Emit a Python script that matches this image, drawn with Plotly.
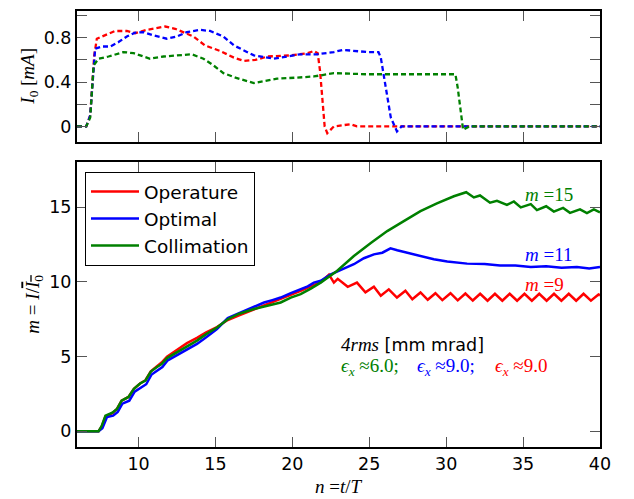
import plotly.graph_objects as go

# ---------------- data ----------------
# top panel: I0 [mA] vs n
top_red_n = [6, 6.6, 6.86, 6.97, 7.03, 7.12, 7.29, 7.94, 8.48, 9.24, 9.78, 10.54, 11.19, 11.73, 12.38, 12.92,
             13.57, 14.32, 15.3, 16.2, 16.86, 17.6, 18.4, 19.9, 21.0, 21.4, 21.65, 21.8, 21.95, 22.1, 22.27,
             22.7, 23.8, 24.2, 40]
top_red_v = [0, 0.0, 0.1, 0.31, 0.49, 0.64, 0.79, 0.83, 0.86, 0.86, 0.84, 0.87, 0.89, 0.9, 0.88, 0.85,
             0.81, 0.73, 0.68, 0.62, 0.59, 0.6, 0.63, 0.64, 0.66, 0.68, 0.66, 0.5, 0.25, 0.0, -0.06,
             0.0, 0.02, 0.0, 0.0]

top_blue_n = [6, 6.6, 6.86, 6.97, 7.05, 7.18, 7.62, 8.16, 8.7, 9.24, 9.78, 10.32, 10.97, 11.84, 12.49, 13.14,
              14.0, 14.65, 15.52, 16.2, 17.5, 18.8, 20.5, 21.6, 22.7, 23.3, 24.85, 25.6, 25.75, 26.0, 26.4,
              26.8, 27.1, 27.5, 40]
top_blue_v = [0, 0, 0.1, 0.3, 0.5, 0.70, 0.72, 0.72, 0.76, 0.81, 0.845, 0.85, 0.82, 0.79, 0.81, 0.85,
              0.87, 0.86, 0.81, 0.73, 0.64, 0.61, 0.65, 0.65, 0.67, 0.69, 0.67, 0.67, 0.62, 0.4, 0.08,
              -0.045, 0.0, 0.0, 0.0]

top_green_n = [6, 6.6, 6.86, 6.97, 7.03, 7.08, 7.4, 8.05, 9.03, 9.68, 10.32, 10.75, 11.62, 12.49, 13.46, 14.22,
               14.87, 15.52, 16.3, 17.5, 18.2, 19.0, 20.3, 21.4, 22.7, 24.85, 27.0, 29.2, 30.6, 30.75, 30.95,
               31.1, 31.5, 40]
top_green_v = [0, 0, 0.08, 0.28, 0.45, 0.55, 0.61, 0.63, 0.67, 0.66, 0.63, 0.61, 0.63, 0.64, 0.65, 0.61,
               0.55, 0.48, 0.44, 0.39, 0.41, 0.43, 0.44, 0.45, 0.48, 0.47, 0.47, 0.47, 0.47, 0.35, 0.1,
               -0.03, 0.0, 0.0]

# bottom panel: m = I / I0 vs n
bot_red_n = [6, 7.4, 7.6, 7.85, 8.3, 8.6, 8.9, 9.35, 9.7, 10.1, 10.45, 10.8, 11.2, 11.5, 11.85, 12.5, 13.15,
             13.8, 14.4, 15.1, 15.8, 16.5, 17.5, 18.4, 19.24, 19.9, 20.54, 21.2, 21.84, 22.38, 22.7, 22.95,
             23.6, 24.2, 24.75, 25.3, 25.75, 26.27, 26.8, 27.35, 27.8, 28.33, 28.8, 29.3, 29.75, 30.28, 30.75,
             31.25, 31.73, 32.21, 32.69, 33.17, 33.65, 34.13, 34.61, 35.09, 35.57, 36.05, 36.53, 37.01, 37.49,
             37.97, 38.45, 38.93, 39.41, 39.9, 40]
bot_red_v = [0, 0, 0.3, 1.0, 1.22, 1.5, 2.05, 2.3, 2.85, 3.2, 3.42, 4.02, 4.35, 4.6, 5.0, 5.45, 5.9,
             6.25, 6.62, 6.98, 7.45, 7.75, 8.15, 8.5, 8.84, 9.1, 9.4, 9.7, 9.98, 10.48, 9.95, 10.2,
             9.67, 9.95, 9.3, 9.67, 9.07, 9.5, 8.95, 9.4, 8.84, 9.29, 8.8, 9.24, 8.78, 9.24, 8.76,
             9.22, 8.75, 9.2, 8.74, 9.2, 8.74, 9.2, 8.74, 9.2, 8.74, 9.2, 8.74, 9.2, 8.74,
             9.2, 8.74, 9.2, 8.74, 9.16, 9.1]

bot_blue_n = [6, 7.4, 7.65, 7.95, 8.35, 8.65, 8.95, 9.4, 9.75, 10.15, 10.5, 10.85, 11.25, 11.55, 11.9, 12.5,
              13.15, 13.8, 14.4, 15.1, 15.8, 16.3, 16.86, 17.5, 18.16, 18.7, 19.24, 19.9, 20.54, 21.0, 21.4,
              21.85, 22.5, 23.35, 24.0, 24.65, 25.3, 25.85, 26.38, 26.82, 27.47, 28.33, 29.2, 30.07, 31.36,
              32.5, 33.5, 34.5, 35.5, 36.5, 37.5, 38.5, 39.3, 40]
bot_blue_v = [0, 0, 0.2, 0.95, 1.05, 1.3, 1.85, 2.05, 2.65, 2.95, 3.15, 3.8, 4.1, 4.3, 4.75, 5.1,
              5.5, 5.85, 6.3, 6.85, 7.58, 7.8, 8.02, 8.3, 8.62, 8.78, 8.95, 9.25, 9.51, 9.7, 9.95,
              10.07, 10.51, 10.91, 11.18, 11.58, 11.84, 11.95, 12.24, 12.11, 11.95, 11.73, 11.51, 11.36, 11.22,
              11.2, 11.1, 11.1, 11.0, 11.05, 10.95, 11.0, 10.9, 11.0]

bot_green_n = [6, 7.4, 7.6, 7.85, 8.3, 8.6, 8.9, 9.35, 9.7, 10.1, 10.45, 10.8, 11.2, 11.5, 11.85, 12.5, 13.15,
               13.8, 14.4, 15.1, 15.8, 16.5, 17.5, 18.4, 19.24, 19.9, 20.54, 21.2, 21.84, 22.9, 24.0, 25.1,
               26.17, 27.3, 28.33, 29.4, 30.5, 31.3, 31.8, 32.2, 32.85, 33.3, 33.95, 34.4, 34.85, 35.5, 35.9,
               36.5, 37.0, 37.6, 38.05, 38.7, 39.15, 39.6, 40]
bot_green_v = [0, 0, 0.35, 1.05, 1.25, 1.5, 2.05, 2.3, 2.85, 3.2, 3.4, 4.0, 4.3, 4.5, 4.9, 5.3, 5.72,
               6.07, 6.5, 6.95, 7.5, 7.85, 8.18, 8.4, 8.62, 8.95, 9.18, 9.55, 9.95, 10.73, 11.73, 12.6,
               13.4, 14.1, 14.73, 15.25, 15.73, 16.0, 15.65, 15.78, 15.3, 15.42, 15.15, 15.38, 14.98, 15.2, 14.8,
               15.06, 14.7, 14.95, 14.62, 14.85, 14.6, 14.85, 14.65]

series_names = ["Operature", "Optimal", "Collimation"]
series_colors = ["#ff0000", "#0000ff", "#008000"]

top_x_ticks = [10, 15, 20, 25, 30, 35, 40]
top_y_ticks = [0, 0.2, 0.4, 0.6, 0.8, 1.0]
top_y_labels = ["0", " ", "0.4", " ", "0.8", " "]
bot_x_ticks = [10, 15, 20, 25, 30, 35, 40]
bot_x_labels = ["10", "15", "20", "25", "30", "35", "40"]
bot_y_ticks = [0, 5, 10, 15]
bot_y_labels = ["0", "5", "10", "15"]

# ---------------- figure ----------------
SANS = "DejaVu Sans"
SERIF = "Liberation Serif"

# the page body has an 8px margin; the figure is sized so that it fills the window
FIG_W, FIG_H = 626, 491
ML, MR, MT, MB = 69, 34, 1, 52
PH = FIG_H - MT - MB          # plot-area height (438)
PW = FIG_W - ML - MR          # plot-area width (523)

fig = go.Figure()
tops = [(top_red_n, top_red_v), (top_blue_n, top_blue_v), (top_green_n, top_green_v)]
bots = [(bot_red_n, bot_red_v), (bot_blue_n, bot_blue_v), (bot_green_n, bot_green_v)]

for (xs, ys), c in zip(tops, series_colors):
    fig.add_trace(go.Scatter(x=xs, y=ys, mode="lines", xaxis="x", yaxis="y",
                             line=dict(color=c, width=2.3, dash="5px,3px"),
                             showlegend=False, hoverinfo="skip"))

for (xs, ys), c, nm in zip(bots, series_colors, series_names):
    fig.add_trace(go.Scatter(x=xs, y=ys, mode="lines", xaxis="x2", yaxis="y2", name=nm,
                             legendgroup=nm,
                             line=dict(color=c, width=2.5), showlegend=True))

axis_common = dict(showline=True, linecolor="black", linewidth=2, mirror="ticks",
                   ticks="inside", ticklen=10, tickwidth=1, tickcolor="#555",
                   showgrid=False, zeroline=False,
                   tickfont=dict(family=SANS, size=17.5, color="black"))

top_dom = [(PH - (141 - 9)) / PH, 1.0]
bot_dom = [0.0, (PH - (161 - 9)) / PH]

fig.update_layout(
    width=FIG_W, height=FIG_H,
    margin=dict(l=ML, r=MR, t=MT, b=MB, pad=0),
    paper_bgcolor="white", plot_bgcolor="white",
    xaxis=dict(domain=[0, 1], anchor="y", range=[6, 40], tickvals=top_x_ticks,
               showticklabels=False, **axis_common),
    yaxis=dict(domain=top_dom, anchor="x", range=[-0.144, 1.04], tickvals=top_y_ticks,
               ticktext=top_y_labels, **axis_common),
    xaxis2=dict(domain=[0, 1], anchor="y2", range=[6, 40], tickvals=bot_x_ticks,
                ticktext=bot_x_labels, **axis_common),
    yaxis2=dict(domain=bot_dom, anchor="x2", range=[-1.05, 18], tickvals=bot_y_ticks,
                ticktext=bot_y_labels, **axis_common),
    legend=dict(x=8 / PW, y=(PH - (170.7 - 9)) / PH, xanchor="left", yanchor="top",
                bgcolor="white", bordercolor="black", borderwidth=1,
                font=dict(family=SANS, size=18.5, color="black"),
                tracegroupgap=0, traceorder="grouped", itemwidth=48),
    showlegend=True,
)

ann = []
# axis titles
ann.append(dict(xref="paper", yref="paper", x=-48 / PW, y=(top_dom[0] + top_dom[1]) / 2,
                text="<i>I</i><sub>0</sub> [<i>mA</i>]", textangle=-90, showarrow=False,
                font=dict(family=SERIF, size=19, color="black"), xanchor="center", yanchor="middle"))
ann.append(dict(xref="paper", yref="paper", x=-43 / PW, y=(bot_dom[0] + bot_dom[1]) / 2,
                text="<i>m</i> = <i>I</i>/<span style='text-decoration:overline'><i>I</i><sub>0</sub></span>",
                textangle=-90, showarrow=False,
                font=dict(family=SERIF, size=19, color="black"), xanchor="center", yanchor="middle"))
ann.append(dict(xref="paper", yref="paper", x=0.5, y=-(487 - 447) / PH,
                text="<i>n</i> =<i>t</i>/<i>T</i>", showarrow=False,
                font=dict(family=SERIF, size=19, color="black"), xanchor="center", yanchor="middle"))
# curve labels
ann.append(dict(xref="x2", yref="y2", x=35.0, y=15.87, text="<i>m</i> =15", showarrow=False,
                font=dict(family=SERIF, size=19, color="#008000"), xanchor="left", yanchor="middle"))
ann.append(dict(xref="x2", yref="y2", x=35.0, y=11.8, text="<i>m</i> =11", showarrow=False,
                font=dict(family=SERIF, size=19, color="#0000ff"), xanchor="left", yanchor="middle"))
ann.append(dict(xref="x2", yref="y2", x=35.0, y=9.8, text="<i>m</i> =9", showarrow=False,
                font=dict(family=SERIF, size=19, color="#ff0000"), xanchor="left", yanchor="middle"))
# emittance text
ann.append(dict(xref="x2", yref="y2", x=23.0, y=5.8,
                text="<span style='font-family:Liberation Serif;font-style:italic;font-size:19px'>4rms</span> [mm mrad]",
                showarrow=False, font=dict(family=SANS, size=17.5, color="black"),
                xanchor="left", yanchor="middle"))
for xv, col, val in [(23.0, "#008000", "6.0;"), (28.0, "#0000ff", "9.0;"), (33.07, "#ff0000", "9.0")]:
    ann.append(dict(xref="x2", yref="y2", x=xv, y=4.29,
                    text="<i>ϵ</i><sub><i>x</i></sub> ≈" + val, showarrow=False,
                    font=dict(family=SERIF, size=19, color=col), xanchor="left", yanchor="middle"))
fig.update_layout(annotations=ann)

fig.write_html("out.html")
